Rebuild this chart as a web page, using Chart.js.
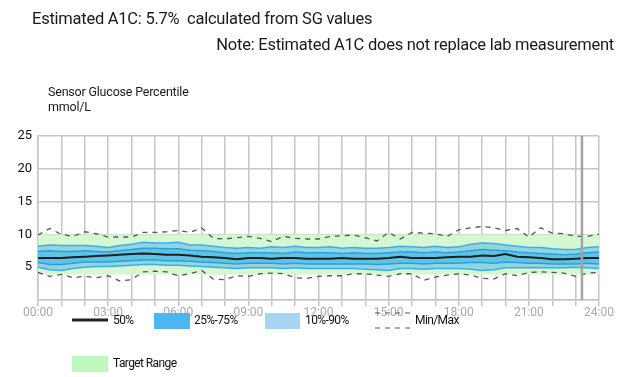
<!DOCTYPE html>
<html>
<head>
<meta charset="utf-8">
<script src="https://cdn.jsdelivr.net/npm/chart.js@4.4.1/dist/chart.umd.min.js"></script>
<style>
body { margin: 0; background: #fff; font-family: Roboto, "Liberation Sans", sans-serif; }
#wrap { position: relative; width: 640px; height: 377px; }
#sgChart { position: absolute; left: 0; top: 0; }
.txt { position: absolute; white-space: nowrap; color: #1a1a1a; }
</style>
</head>
<body>
<div id="wrap">
  <canvas id="sgChart" width="640" height="377"></canvas>
  <div class="txt" style="left:32px;top:9px;font-size:16.5px;letter-spacing:-0.25px">Estimated A1C: 5.7%&nbsp; calculated from SG values</div>
  <div class="txt" style="right:26px;top:35px;font-size:16.5px;letter-spacing:-0.25px">Note: Estimated A1C does not replace lab measurement</div>
  <div class="txt" style="left:48px;top:84px;font-size:12.5px;letter-spacing:-0.2px">Sensor Glucose Percentile</div>
  <div class="txt" style="left:48px;top:99px;font-size:12.5px;letter-spacing:-0.2px">mmol/L</div>
</div>
<script>
// time of day in hours, one value every 30 min
var hours = [];
for (var h = 0; h <= 48; h++) hours.push(h / 2);

var p50 = [6.4,6.4,6.4,6.5,6.6,6.7,6.8,6.9,7.0,7.1,7.0,6.9,6.9,6.8,6.6,6.5,6.4,6.2,6.4,6.4,6.3,6.4,6.4,6.3,6.3,
           6.3,6.4,6.3,6.3,6.3,6.4,6.6,6.4,6.4,6.4,6.5,6.6,6.6,6.8,6.7,7.0,6.6,6.5,6.4,6.2,6.2,6.3,6.4,6.4];
var p25 = [5.7,5.4,5.4,5.6,5.8,5.8,5.8,5.9,6.0,6.1,6.1,6.0,6.0,5.9,5.8,5.7,5.6,5.5,5.6,5.6,5.6,5.5,5.6,5.5,5.5,
           5.5,5.5,5.5,5.5,5.4,5.5,5.6,5.6,5.5,5.6,5.6,5.6,5.7,5.7,5.6,5.8,5.7,5.6,5.6,5.5,5.5,5.5,5.6,5.5];
var p75 = [7.4,7.5,7.4,7.4,7.5,7.4,7.3,7.5,7.7,7.9,7.9,7.8,7.8,7.6,7.5,7.4,7.2,7.1,7.2,7.2,7.2,7.1,7.3,7.2,7.2,
           7.2,7.1,7.2,7.1,7.1,7.2,7.3,7.3,7.2,7.3,7.2,7.3,7.5,7.7,7.6,7.5,7.3,7.2,7.1,7.0,6.9,7.0,7.2,7.3];
var p10 = [5.0,4.6,4.5,4.8,5.0,5.1,5.1,5.2,5.3,5.4,5.4,5.3,5.3,5.2,5.1,5.0,4.9,4.8,4.9,4.9,4.9,4.8,4.9,4.8,4.8,
           4.8,4.8,4.8,4.7,4.6,4.5,4.8,4.8,4.7,4.8,4.8,4.8,4.7,4.5,4.6,4.9,4.9,4.9,4.9,4.9,4.9,5.0,4.9,4.8];
var p90 = [8.2,8.4,8.3,8.3,8.3,8.2,8.0,8.3,8.5,8.8,8.7,8.7,8.8,8.4,8.4,8.2,8.0,7.9,8.0,7.9,8.1,8.0,8.2,8.0,8.0,
           8.1,7.9,8.0,7.9,7.9,8.0,8.2,8.1,8.0,8.2,8.0,8.1,8.5,8.7,8.6,8.4,8.2,8.0,8.0,7.8,7.7,7.7,8.0,8.1];
var sgMin = [4.2,3.6,3.9,3.4,3.6,3.4,3.7,2.9,3.1,4.3,4.4,4.3,3.7,4.0,4.5,3.2,3.1,3.7,3.6,4.0,4.1,4.0,3.4,3.3,3.6,
             3.7,3.7,4.0,4.0,3.8,3.6,4.0,4.0,3.0,3.5,3.8,4.0,3.8,3.3,3.2,4.0,3.7,4.2,4.3,4.2,4.1,3.6,4.1,4.2];
var sgMax = [9.9,10.9,10.0,9.7,10.4,10.1,9.6,9.6,9.6,10.3,10.3,10.4,10.6,10.3,11.0,9.4,9.3,9.5,9.7,9.4,8.9,9.7,9.4,9.3,9.3,
             9.7,9.8,9.9,9.5,9.0,10.3,9.3,10.3,10.2,10.1,9.7,10.7,11.0,11.2,11.0,10.6,10.9,9.6,11.0,10.2,10.1,9.7,9.7,10.0];

var targetLow = 3.9;
var targetHigh = 10.0;
var markerHour = 23.27;

function pts(arr) {
  return arr.map(function (v, i) { return { x: hours[i], y: v }; });
}

var legendPlugin = {
  id: 'sgLegend',
  afterDraw: function (chart) {
    var c = chart.ctx;
    var area = chart.chartArea;
    var mx = chart.scales.x.getPixelForValue(markerHour);
    c.save();
    c.strokeStyle = '#a3a3a3';
    c.lineWidth = 2.5;
    c.beginPath();
    c.moveTo(mx, area.top);
    c.lineTo(mx, area.bottom);
    c.stroke();

    c.font = '12px Roboto, sans-serif';
    c.letterSpacing = '-0.6px';
    c.fillStyle = '#111';
    c.textBaseline = 'middle';

    c.strokeStyle = '#222';
    c.lineWidth = 3;
    c.beginPath(); c.moveTo(72, 320); c.lineTo(108, 320); c.stroke();
    c.fillText('50%', 113, 321);

    c.fillStyle = '#4db6f0';
    c.fillRect(154, 313, 36, 16);
    c.fillStyle = '#111';
    c.fillText('25%-75%', 194, 321);

    c.fillStyle = '#a7d4f2';
    c.fillRect(265, 313, 35, 16);
    c.fillStyle = '#111';
    c.fillText('10%-90%', 305, 321);

    c.strokeStyle = '#555';
    c.lineWidth = 1.2;
    c.setLineDash([5, 5]);
    c.beginPath();
    c.moveTo(375, 313); c.lineTo(410, 313);
    c.moveTo(375, 328); c.lineTo(410, 328);
    c.stroke();
    c.setLineDash([]);
    c.fillText('Min/Max', 415, 321);

    c.fillStyle = '#bff8bf';
    c.fillRect(72, 356, 36, 16);
    c.fillStyle = '#111';
    c.fillText('Target Range', 113, 364);
    c.restore();
  }
};

var ctx = document.getElementById('sgChart').getContext('2d');
var myChart = new Chart(ctx, {
  type: 'line',
  data: {
    datasets: [
      { data: pts(hours.map(function () { return targetLow; })), borderWidth: 0, pointRadius: 0, order: 10, fill: false },
      { data: pts(hours.map(function () { return targetHigh; })), borderWidth: 0, pointRadius: 0, order: 10,
        fill: 0, backgroundColor: '#d5f8d2' },
      { data: pts(p10), borderColor: '#3aaeea', borderWidth: 1.5, pointRadius: 0, order: 8, fill: false },
      { data: pts(p90), borderColor: '#3aaeea', borderWidth: 1.5, pointRadius: 0, order: 8,
        fill: 2, backgroundColor: '#93d5df' },
      { data: pts(p25), borderColor: '#2c9fe3', borderWidth: 1.5, pointRadius: 0, order: 6, fill: false },
      { data: pts(p75), borderColor: '#2c9fe3', borderWidth: 1.5, pointRadius: 0, order: 6,
        fill: 4, backgroundColor: '#5ec4e4' },
      { data: pts(p50), borderColor: '#1e1e1e', borderWidth: 2, pointRadius: 0, order: 1, fill: false },
      { data: pts(sgMin), borderColor: '#555', borderWidth: 1.3, borderDash: [5, 5], pointRadius: 0, order: 2, fill: false },
      { data: pts(sgMax), borderColor: '#555', borderWidth: 1.3, borderDash: [5, 5], pointRadius: 0, order: 2, fill: false }
    ]
  },
  options: {
    responsive: false,
    animation: false,
    layout: { padding: { top: 136, right: 41, bottom: 57, left: 0 } },
    plugins: { legend: { display: false }, tooltip: { enabled: false } },
    scales: {
      x: {
        type: 'linear', min: 0, max: 24,
        afterFit: function (s) { s.height = 20; },
        grid: { color: '#c6c6c6', lineWidth: 1.5, tickLength: 6 },
        border: { color: '#c6c6c6', width: 1.5 },
        ticks: {
          stepSize: 1, autoSkip: false, maxRotation: 0, padding: 0,
          color: '#aaa', font: { family: 'Roboto', size: 12 },
          callback: function (v) { return v % 3 === 0 ? (v < 10 ? '0' : '') + v + ':00' : ''; }
        }
      },
      y: {
        min: 0, max: 25,
        afterFit: function (s) { s.width = 38; },
        grid: { color: '#c6c6c6', lineWidth: 1.5, drawTicks: false },
        border: { color: '#c6c6c6', width: 1.5 },
        ticks: {
          stepSize: 5, padding: 6, color: '#111', font: { family: 'Roboto', size: 13 },
          callback: function (v) { return v === 0 ? '' : v; }
        }
      }
    }
  },
  plugins: [legendPlugin]
});
</script>
</body>
</html>
